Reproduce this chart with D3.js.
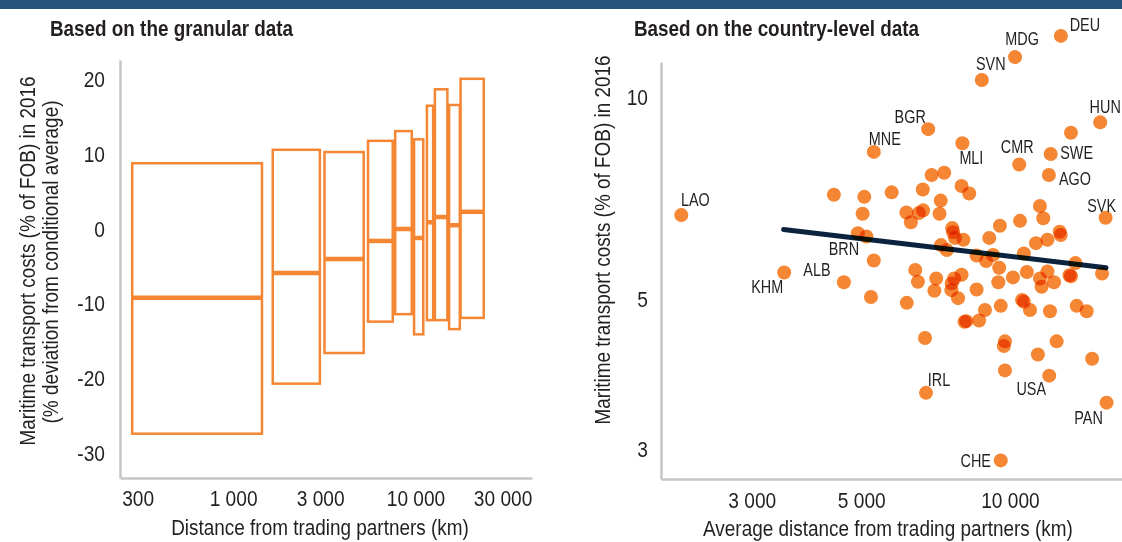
<!DOCTYPE html>
<html><head><meta charset="utf-8">
<script src="https://cdn.jsdelivr.net/npm/d3@7"></script>
<style>
body{margin:0;background:#fff}
svg{display:block}
text{font-family:"Liberation Sans",Arial,"Helvetica",sans-serif;fill:#231f20}
</style>
</head><body>
<svg id="chart" width="1122" height="542"></svg>
<script>
// ---------- Left panel data (granular) ----------
const binFrom   = [280, 1650, 3170, 5490, 7740, 9820, 11550, 12770, 15280, 17660];
const binTo     = [1440, 2990, 5200, 7500, 9540, 11030, 12490, 14950, 17490, 23650];
const boxTop    = [8.8, 10.6, 10.3, 11.8, 13.1, 12.0, 16.5, 18.7, 16.6, 20.1];
const boxMedian = [-9.2, -5.9, -4.0, -1.6, 0.0, -1.2, 0.9, 1.6, 0.5, 2.3];
const boxBottom = [-27.4, -20.7, -16.6, -12.4, -11.4, -14.1, -12.2, -12.2, -13.4, -11.9];
const leftXTicks = [300, 1000, 3000, 10000, 30000];
const leftYTicks = [20, 10, 0, -10, -20, -30];

// ---------- Right panel data (country-level) ----------
const labeledCodes    = ["DEU","MDG","SVN","HUN","BGR","MNE","MLI","CMR","SWE","AGO","LAO","SVK","BRN","KHM","ALB","IRL","USA","PAN","CHE"];
const labeledDistance = [12680,10240,8770,15230,6830,5300,8010,10440,12090,11990,2160,15620,4920,3490,4610,6760,12010,15690,9580];
const labeledCost     = [12.32,11.46,10.60,9.17,8.96,8.29,8.54,7.94,8.23,7.66,6.68,6.62,6.28,5.49,5.31,3.64,3.86,3.52,2.89];
const otherDistance = [13290,6940,7360,4400,5070,5760,6660,7980,8270,7240,5030,6170,6300,6540,6670,7200,7640,7670,7740,8050,
  7250,7450,5120,5300,5230,6180,6430,6510,7090,7030,7620,7710,7980,7610,7850,8560,9080,9540,10480,11500,
  11680,12610,12670,11290,11910,8560,8950,9240,9510,10670,10140,9470,10820,11500,11590,11910,12280,13200,13570,15360,
  10580,10670,10980,12050,13650,14300,9580,8900,8660,8160,8090,6730,9770,9720,12430,11390,14670,9770,13290];
const otherCost = [8.85,7.66,7.72,7.16,7.11,7.22,7.29,7.38,7.19,7.02,6.71,6.74,6.52,6.73,6.79,6.71,6.39,6.30,6.18,6.14,
  6.03,5.93,6.21,5.72,5.05,4.95,5.54,5.32,5.38,5.16,5.29,5.38,5.45,5.17,5.03,5.18,6.18,6.44,6.55,6.89,
  6.61,6.31,6.24,6.07,6.14,5.82,5.71,5.83,5.58,5.86,5.40,5.31,5.50,5.38,5.23,5.51,5.31,5.44,5.67,5.47,
  5.00,4.97,4.83,4.81,4.90,4.81,4.90,4.83,4.66,4.65,4.64,4.39,4.34,4.27,4.34,4.15,4.09,3.93,5.42];
const trendDistance = [3480, 15650];
const trendCost     = [6.36, 5.58];
const rightXTicks = [3000, 5000, 10000];
const rightYTicks = [3, 5, 10];

// label offsets (layout, px)
const labelOffset = {DEU:[24,-11],MDG:[7,-18],SVN:[9,-16],HUN:[5,-15],BGR:[-18,-12],MNE:[11,-13],MLI:[9,15],
  CMR:[-2,-18],SWE:[26,-1],AGO:[26,4],LAO:[14,-15],SVK:[-4,-12],BRN:[-14,16],KHM:[-17,14],ALB:[-27,-12],
  IRL:[13,-13],USA:[-18,13],PAN:[-18,15],CHE:[-25,1]};

const ORANGE = "#F58634", AXIS = "#c6c6c8", NAVY = "#0c2340";
const fmt = v => d3.format(",")(v).replace(/,/g, " ");

const svg = d3.select("#chart");
svg.append("rect").attr("x",0).attr("y",0).attr("width",1122).attr("height",9).attr("fill","#24527a");

// ---------- Titles ----------
svg.append("text").attr("class","c-title").attr("x",50).attr("y",36).attr("font-size",22).attr("font-weight","bold").text("Based on the granular data");
svg.append("text").attr("class","c-title").attr("x",634).attr("y",36).attr("font-size",22).attr("font-weight","bold").text("Based on the country-level data");

// ---------- Left panel ----------
const xL = d3.scaleLog().domain([240, 43500]).range([120, 532]);
const yL = d3.scaleLinear().domain([-33.33, 22.62]).range([478, 60]);

const axL = svg.append("g").attr("transform","translate(120,0)")
  .call(d3.axisLeft(yL).tickValues(leftYTicks).tickSize(0).tickSizeOuter(0).tickPadding(15).tickFormat(d=>String(d)));
const axB = svg.append("g").attr("transform","translate(0,478)")
  .call(d3.axisBottom(xL).tickValues(leftXTicks).tickSize(0).tickSizeOuter(0).tickPadding(12).tickFormat(fmt));

const boxes = binFrom.map((f,i)=>({f, t:binTo[i], top:boxTop[i], med:boxMedian[i], bot:boxBottom[i]}));
const gBox = svg.append("g");
gBox.selectAll("rect").data(boxes).join("rect")
  .attr("x", d=>xL(d.f)).attr("width", d=>xL(d.t)-xL(d.f))
  .attr("y", d=>yL(d.top)).attr("height", d=>yL(d.bot)-yL(d.top))
  .attr("fill","none").attr("stroke",ORANGE).attr("stroke-width",2.5);
gBox.selectAll("line").data(boxes).join("line")
  .attr("x1", d=>xL(d.f)).attr("x2", d=>xL(d.t))
  .attr("y1", d=>yL(d.med)).attr("y2", d=>yL(d.med))
  .attr("stroke",ORANGE).attr("stroke-width",4.5);

svg.append("text").attr("transform","translate(27,261) rotate(-90)").attr("text-anchor","middle")
  .attr("dominant-baseline","central").attr("font-size",22).text("Maritime transport costs (% of FOB) in 2016");
svg.append("text").attr("transform","translate(50,262) rotate(-90)").attr("text-anchor","middle")
  .attr("dominant-baseline","central").attr("font-size",22).text("(% deviation from conditional average)");
svg.append("text").attr("x",320).attr("y",535).attr("text-anchor","middle").attr("font-size",22)
  .text("Distance from trading partners (km)");

// ---------- Right panel ----------
const xR = d3.scaleLog().domain([1965, 16860]).range([661, 1122]);
const yR = d3.scaleLog().domain([2.712, 11.27]).range([479, 62]);

const axRL = svg.append("g").attr("transform","translate(661,0)")
  .call(d3.axisLeft(yR).tickValues(rightYTicks).tickSize(0).tickSizeOuter(0).tickPadding(13).tickFormat(d=>String(d)));
const axRB = svg.append("g").attr("transform","translate(0,479)")
  .call(d3.axisBottom(xR).tickValues(rightXTicks).tickSize(0).tickSizeOuter(0).tickPadding(13).tickFormat(fmt));

[axL, axB, axRL, axRB].forEach(g => {
  g.attr("font-family",null).attr("font-size",null);
  g.select(".domain").attr("stroke",AXIS).attr("stroke-width",2.5);
  g.selectAll("text").attr("class","c-tick").attr("font-size",22).attr("fill","#231f20");
});

svg.append("text").attr("transform","translate(602,240) rotate(-90)").attr("text-anchor","middle")
  .attr("dominant-baseline","central").attr("font-size",22).text("Maritime transport costs (% of FOB) in 2016");
svg.append("text").attr("x",888).attr("y",536).attr("text-anchor","middle").attr("font-size",22)
  .text("Average distance from trading partners (km)");

// trend line
svg.append("line")
  .attr("x1", xR(trendDistance[0])).attr("y1", yR(trendCost[0]))
  .attr("x2", xR(trendDistance[1])).attr("y2", yR(trendCost[1]))
  .attr("stroke",NAVY).attr("stroke-width",5).attr("stroke-linecap","round");

const pts = otherDistance.map((d,i)=>({d, c:otherCost[i]}))
  .concat(labeledDistance.map((d,i)=>({d, c:labeledCost[i], code:labeledCodes[i]})));
svg.append("g").selectAll("circle").data(pts).join("circle")
  .attr("cx", p=>xR(p.d)).attr("cy", p=>yR(p.c)).attr("r",7)
  .attr("fill",ORANGE).style("mix-blend-mode","multiply");

svg.append("g").selectAll("text").data(pts.filter(p=>p.code)).join("text")
  .attr("class","c-label")
  .attr("x", p=>xR(p.d)+labelOffset[p.code][0])
  .attr("y", p=>yR(p.c)+labelOffset[p.code][1])
  .attr("text-anchor","middle").attr("dominant-baseline","central")
  .attr("font-size",18).text(p=>p.code);

// condensed look (narrow face emulation)
svg.selectAll("text").each(function(){
  const cls = this.getAttribute("class") || "";
  const f = cls === "c-title" ? 0.857 : cls === "c-tick" ? 0.87 : cls === "c-label" ? 0.8 : 0.86;
  const w = this.getComputedTextLength();
  this.setAttribute("textLength", (w*f).toFixed(1));
  this.setAttribute("lengthAdjust","spacingAndGlyphs");
});
</script>
</body></html>
